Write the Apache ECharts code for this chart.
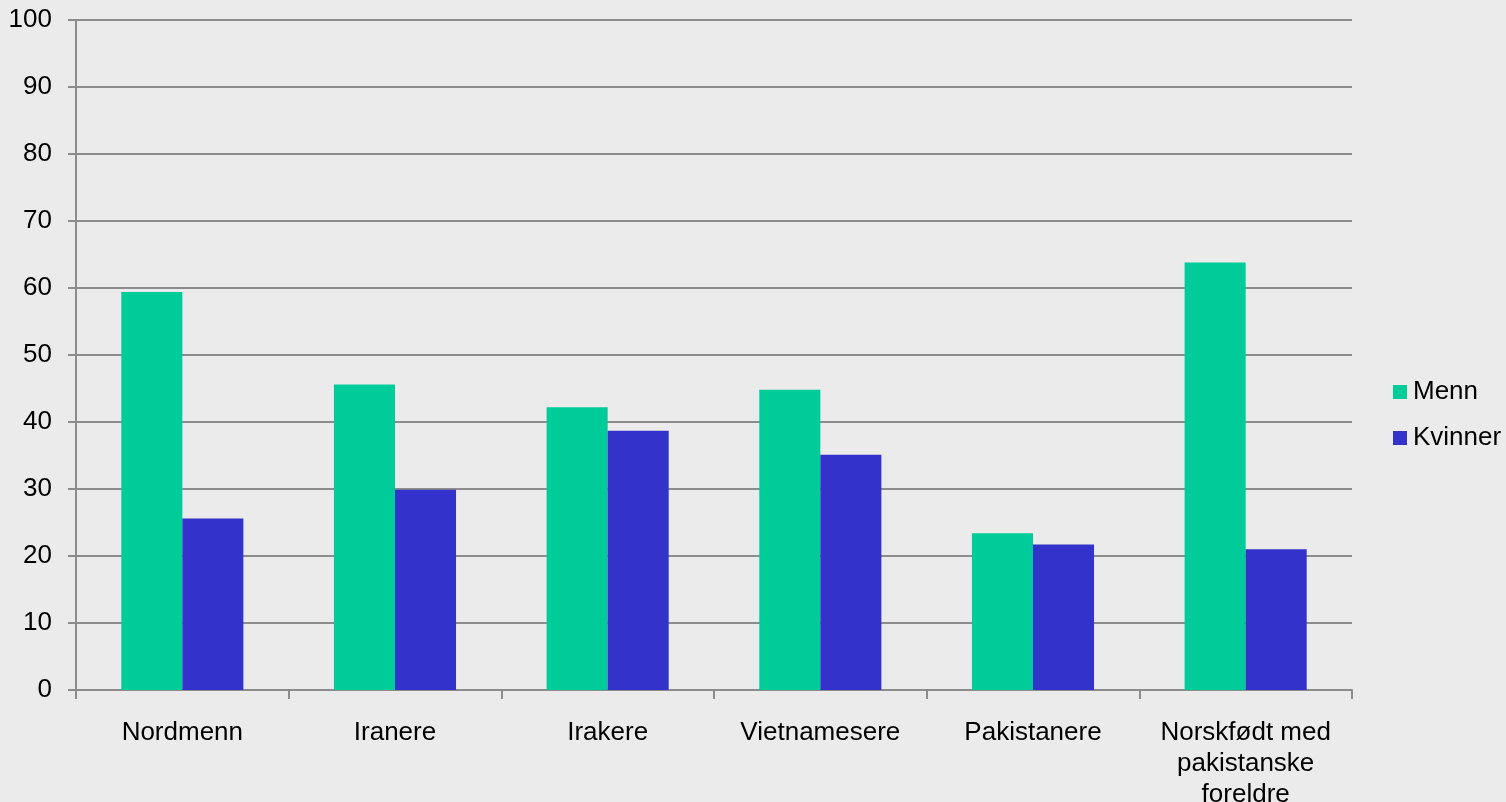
<!DOCTYPE html>
<html><head><meta charset="utf-8">
<script src="https://cdn.jsdelivr.net/npm/echarts@6/dist/echarts.min.js"></script>
<style>html,body{margin:0;padding:0;background:#ebebeb;}#c{width:1506px;height:802px;}</style>
</head><body><div id="c"></div>
<script>
const categories = ['Nordmenn','Iranere','Irakere','Vietnamesere','Pakistanere','Norskfødt med\npakistanske\nforeldre'];
const menn = [59.4, 45.6, 42.2, 44.8, 23.4, 63.8];
const kvinner = [25.6, 29.9, 38.7, 35.1, 21.7, 21.0];
const yTicks = {min:0, max:100, interval:10};
const chart = echarts.init(document.getElementById('c'), null, {renderer:'canvas'});
const font = 'Liberation Sans, Arial, sans-serif';
chart.setOption({
  backgroundColor:'#ebebeb',
  animation:false,
  textStyle:{fontFamily:font},
  grid:{left:76,right:154,top:20,bottom:112,containLabel:false,outerBoundsMode:'none'},
  legend:{
    orient:'vertical', left:1388, top:374, itemWidth:14, itemHeight:14, itemGap:20,
    icon:'rect',
    textStyle:{fontFamily:font,fontSize:26,color:'#000',padding:[0,0,0,1]},
    data:['Menn','Kvinner']
  },
  xAxis:{
    type:'category', data:categories,
    axisLine:{lineStyle:{color:'#8c8c8c',width:2}},
    axisTick:{show:true,length:9,lineStyle:{color:'#8c8c8c',width:2}},
    axisLabel:{fontFamily:font,fontSize:26,color:'#000',margin:27,lineHeight:31,interval:0}
  },
  yAxis:{
    type:'value', min:yTicks.min, max:yTicks.max, interval:yTicks.interval,
    axisLine:{show:true,lineStyle:{color:'#8c8c8c',width:2}},
    axisTick:{show:true,length:8,lineStyle:{color:'#8c8c8c',width:2}},
    splitLine:{lineStyle:{color:'#8c8c8c',width:2}},
    axisLabel:{fontFamily:font,fontSize:26,color:'#000',margin:24}
  },
  series:[
    {name:'Menn',type:'bar',data:menn,itemStyle:{color:'#00cc99'},barGap:'0%',barCategoryGap:'42.6%'},
    {name:'Kvinner',type:'bar',data:kvinner,itemStyle:{color:'#3333cc'},barGap:'0%',barCategoryGap:'42.6%'}
  ]
});
</script></body></html>
